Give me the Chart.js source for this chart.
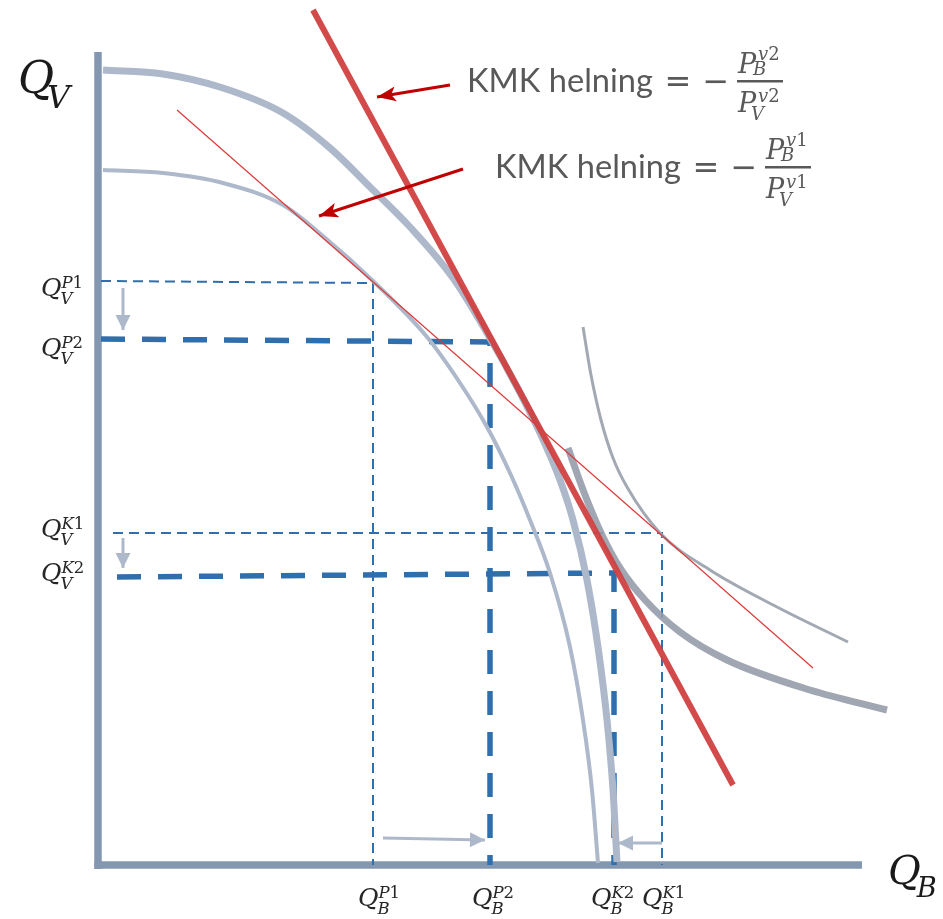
<!DOCTYPE html>
<html>
<head>
<meta charset="utf-8">
<script src="https://cdn.jsdelivr.net/npm/chart.js@4.4.1/dist/chart.umd.min.js"></script>
<style>
  html, body { margin: 0; padding: 0; background: #fff; }
  #wrap { width: 943px; height: 919px; }
</style>
</head>
<body>
<div id="wrap"><canvas id="myChart"></canvas></div>
<script>
// units: origin where the axes meet (1 unit = 10 px)
const xAxisLine = [[-0.35, 0], [76.4, 0]];
const yAxisLine = [[0, -0.4], [0, 81.3]];

const ppfOuter = [[0.5, 79.5], [6.5, 79.1], [12.5, 77.7], [18.5, 75.2], [23.2, 71.7], [27.2, 67.8],
  [31.2, 63.8], [35.5, 58.7], [38.9, 53.2], [41.9, 47.8], [44.2, 43.2], [46.2, 38.5], [47.5, 34.5],
  [48.9, 28.5], [50.0, 21.8], [50.9, 14.5], [51.5, 7.5], [51.9, 0.3]];
const ppfInner = [[0.5, 69.5], [6.5, 69.2], [12.5, 68.2], [18.5, 66.0], [22.5, 62.9], [27.5, 58.4],
  [32.9, 52.8], [36.2, 48.2], [38.9, 43.8], [41.2, 39.2], [43.2, 34.5], [45.2, 29.2], [47.2, 21.8],
  [48.5, 14.5], [49.4, 7.5], [50.0, 0.2]];
const icUpper = [[48.5, 53.8], [49.3, 49.0], [50.3, 44.5], [51.5, 40.7], [52.9, 37.8], [56.2, 33.2],
  [61.2, 29.5], [67.9, 25.8], [75.0, 22.3]];
const icLower = [[47.0, 41.7], [48.7, 37.0], [50.4, 33.0], [52.2, 29.7], [54.7, 26.5], [58.2, 23.3],
  [62.9, 20.5], [71.2, 17.5], [78.9, 15.5]];
const priceLineV2 = [[21.5, 85.5], [63.5, 8.0]];
const priceLineV1 = [[7.9, 75.5], [71.5, 19.7]];

const guideP1 = [[0.3, 58.4], [27.5, 58.2], [27.5, 0]];
const guideP2 = [[0.3, 52.6], [39.2, 52.3], [39.2, 0]];
const guideK1 = [[1.5, 33.2], [56.4, 33.2], [56.4, 0]];
const guideK2 = [[1.9, 28.8], [51.6, 29.2], [51.6, 0]];

const shiftArrows = [
  [[2.5, 57.7], [2.5, 53.5]],
  [[2.5, 32.7], [2.5, 29.7]],
  [[28.5, 2.7], [38.7, 2.5]],
  [[56.4, 2.2], [52.0, 2.2]]
];
const noteArrows = [
  [[35.2, 78.0], [27.9, 76.8]],
  [[36.5, 69.6], [22.1, 64.9]]
];

const yTickValues = [58.3, 52.5, 33.2, 29.0];
const yTickSup = ["P1", "P2", "K1", "K2"];
const xTickValues = [27.5, 39.2, 51.6, 56.4];
const xTickSup = ["P1", "P2", "K2", "K1"];

const noteAnchors = [[36.9, 77.3], [39.7, 68.7]];
const noteIndex = ["v2", "v1"];

const pts = a => a.map(([x, y]) => ({ x, y }));
const SERIF = '"DejaVu Serif"';

function runText(ctx, str, x, y, size) {
  for (const ch of str) {
    ctx.font = (/[0-9]/.test(ch) ? "" : "italic ") + size + "px " + SERIF;
    ctx.fillText(ch, x, y);
    x += ctx.measureText(ch).width;
  }
  return x;
}

function mathLabel(ctx, x, y, size, base, sub, sup, o) {
  o = o || {};
  const end = runText(ctx, base, x, y, size);
  const s = size * (o.ratio || 0.66);
  if (sup) runText(ctx, sup, end + (o.supDx || 0), y - size * 0.32, s);
  if (sub) runText(ctx, sub, end + (o.subDx !== undefined ? o.subDx : -1), y + size * 0.33, s);
}

const arrowHeads = {
  id: "arrowHeads",
  afterDatasetsDraw(chart) {
    const ctx = chart.ctx;
    chart.data.datasets.forEach((ds, i) => {
      if (!ds.head) return;
      const p = chart.getDatasetMeta(i).data;
      const a = p[p.length - 2], b = p[p.length - 1];
      const [len, wid, notch] = ds.head;
      ctx.save();
      ctx.translate(b.x, b.y);
      ctx.rotate(Math.atan2(b.y - a.y, b.x - a.x));
      ctx.beginPath();
      ctx.moveTo(0, 0);
      ctx.lineTo(-len, wid / 2);
      ctx.lineTo(-len * notch, 0);
      ctx.lineTo(-len, -wid / 2);
      ctx.closePath();
      ctx.fillStyle = ds.borderColor;
      ctx.fill();
      ctx.restore();
    });
  }
};

const labels = {
  id: "labels",
  afterDraw(chart) {
    const ctx = chart.ctx, xs = chart.scales.x, ys = chart.scales.y;
    const yNudge = [14, 16, 4, 6];
    const xNudge = [-15, -18, -23, -20];
    ctx.save();
    ctx.fillStyle = "#262626";
    ctx.textBaseline = "alphabetic";
    ctx.textAlign = "left";

    yTickValues.forEach((v, i) => {
      mathLabel(ctx, 41, ys.getPixelForValue(v) + yNudge[i], 25, "Q", "V", yTickSup[i]);
    });
    xTickValues.forEach((v, i) => {
      mathLabel(ctx, xs.getPixelForValue(v) + xNudge[i], 906, 25, "Q", "B", xTickSup[i]);
    });

    // axis titles
    ctx.fillStyle = "#1a1a1a";
    mathLabel(ctx, xs.getPixelForValue(-8.0), ys.getPixelForValue(77.2), 44, "Q", "V", null, { ratio: 0.72, subDx: -7 });
    mathLabel(ctx, xs.getPixelForValue(79.0), ys.getPixelForValue(-1.9), 40, "Q", "B", null, { ratio: 0.68, subDx: -4 });

    // slope notes
    ctx.fillStyle = "#595959";
    noteAnchors.forEach(([ax, ay], i) => {
      const x = xs.getPixelForValue(ax), y = ys.getPixelForValue(ay);
      ctx.font = "33px Lato";
      const w = ctx.measureText("KMK helning").width;
      ctx.save();
      ctx.translate(x, y);
      ctx.scale(186 / w, 1);
      ctx.fillText("KMK helning", 0, 0);
      ctx.restore();
      ctx.font = '32px "DejaVu Sans"';
      ctx.textAlign = "center";
      ctx.fillText("=", x + 211, y);
      ctx.fillText("\u2212", x + 249, y);
      ctx.textAlign = "left";
      ctx.fillRect(x + 270, y - 12, 46, 2.5);
      runText(ctx, "P", x + 271, y - 19, 27);
      runText(ctx, "B", x + 286, y - 17, 18);
      runText(ctx, noteIndex[i], x + 291, y - 32, 18);
      runText(ctx, "P", x + 271, y + 20, 27);
      runText(ctx, "V", x + 284, y + 28, 18);
      runText(ctx, noteIndex[i], x + 291, y + 10, 18);
    });
    ctx.restore();
  }
};

const line = (data, color, width, extra) => Object.assign({
  data: pts(data), showLine: true, borderColor: color, borderWidth: width,
  pointRadius: 0, fill: false, tension: 0, borderCapStyle: "butt"
}, extra || {});

const curve = { cubicInterpolationMode: "monotone" };

const datasets = [
  ...noteArrows.map(a => line(a, "#c00000", 3, { head: [19, 15, 0.75] })),
  ...shiftArrows.map(a => line(a, "#adb9ca", 3, { head: [15, 15, 1] })),
  line(priceLineV2, "rgba(208,64,64,0.95)", 6),
  line(priceLineV1, "#dc3a3a", 1.2),
  line(ppfOuter, "#adb9cb", 7, curve),
  line(ppfInner, "#adb9cb", 4, curve),
  line(icLower, "rgba(150,157,170,0.9)", 7, curve),
  line(icUpper, "#a3a9b3", 3, curve),
  line(guideP1, "#2f6fad", 2, { borderDash: [10, 6] }),
  line(guideK1, "#2f6fad", 2, { borderDash: [10, 6] }),
  line(guideP2, "#2f6fad", 5.5, { borderDash: [24, 17] }),
  line(guideK2, "#2f6fad", 5.5, { borderDash: [24, 17] }),
  line(xAxisLine, "#8497b0", 7.5),
  line(yAxisLine, "#8497b0", 7.5)
];

new Chart(document.getElementById("myChart"), {
  type: "scatter",
  data: { datasets },
  options: {
    responsive: true,
    maintainAspectRatio: false,
    animation: false,
    layout: { padding: 0 },
    scales: {
      x: { type: "linear", min: -9.8, max: 84.5, display: false },
      y: { type: "linear", min: -5.4, max: 86.5, display: false }
    },
    plugins: { legend: { display: false }, tooltip: { enabled: false } }
  },
  plugins: [arrowHeads, labels]
});
</script>
</body>
</html>
